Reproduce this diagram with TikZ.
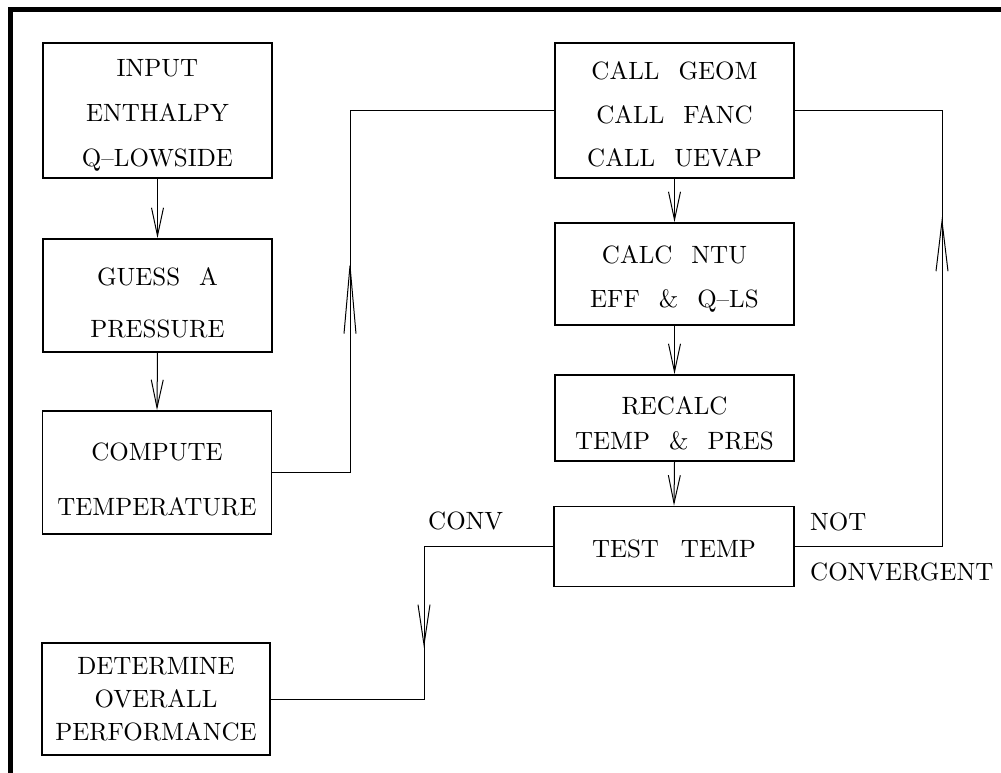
\documentclass[tikz,border=0pt]{standalone}
\usetikzlibrary{arrows.meta}
% wide Computer Modern cut used for all the lettering
\font\boxfnt=cmr10 at 25pt
% extra head room on the first line sets the lettering lower in its box
\newcommand{\headroom}[1]{\rule{0pt}{#1}}
\begin{document}
\begin{tikzpicture}[x=1pt,y=-1pt,
  procbox/.style={draw, line width=1.7pt, rectangle, align=center, inner sep=0pt,
    font=\boxfnt,
    execute at begin node={\baselineskip=#1\spaceskip=19pt\relax}},
  procbox/.default=45pt,
  link/.style={line width=1pt},
  boxtip/.style={link, -{Straight Barb[length=28pt,width=12pt,line width=1pt]}},
  midtip/.style={link, -{Straight Barb[length=#1,width=12pt,line width=1pt]}},
  lbl/.style={inner sep=0pt, anchor=base west, font=\boxfnt}]
  \useasboundingbox (0,0) rectangle (1001,773);
  \clip (0,0) rectangle (1001,773);
  % outer frame (only the top and left edges fall inside the page)
  \draw[line width=5pt] (10,10) rectangle (1040,810);

  % left column
  \node[procbox=45pt, minimum width=229pt, minimum height=135pt] (input) at (157.5,110.5) {\headroom{27pt}INPUT\\ENTHALPY\\Q--LOWSIDE};
  \node[procbox=52pt, minimum width=229pt, minimum height=113pt] (guess) at (157.5,295.5) {\headroom{31pt}GUESS A\\PRESSURE};
  \node[procbox=55pt, minimum width=229pt, minimum height=123pt] (compute) at (157,472.5) {\headroom{30pt}COMPUTE\\TEMPERATURE};
  \node[procbox=33pt, minimum width=228pt, minimum height=112pt] (determine) at (156,699) {DETERMINE\\OVERALL\\PERFORMANCE};

  % right column
  \node[procbox=43pt, minimum width=239pt, minimum height=135pt] (call) at (674.5,110.5) {\headroom{25pt}CALL GEOM\\CALL FANC\\CALL UEVAP};
  \node[procbox=44pt, minimum width=239pt, minimum height=102pt] (calc) at (674.5,274) {\headroom{27pt}CALC NTU\\EFF \& Q--LS};
  \node[procbox=35pt, minimum width=239pt, minimum height=86pt] (recalc) at (674.5,418) {\headroom{27pt}RECALC\\TEMP \& PRES};
  \node[procbox, minimum width=240pt, minimum height=80pt] (test) at (674,546.5) {\headroom{21pt}TEST\hspace{22pt}TEMP};

  % labels on the branches out of the test
  \node[lbl] (conv) at (428,529) {CONV};
  \node[lbl] (notc) at (810,530) {NOT};
  \node[lbl] (convg) at (810,580) {CONVERGENT};

  % straight flow
  \draw[boxtip] (input.south) -- (guess.north);
  \draw[boxtip] (guess.south) -- (compute.north);
  \draw[boxtip] (call.south) -- (calc.north);
  \draw[boxtip] (calc.south) -- (recalc.north);
  \draw[boxtip] (recalc.south) -- (test.north);

  % temperature to the subroutine calls
  \coordinate (a1) at (350,472.5);
  \coordinate (a2) at (350,110.5);
  \coordinate (a3) at (350,260);
  \draw[link] (compute.east) -- (a1) -- (a2) -- (call.west);
  \draw[midtip=68pt] (a1) -- (a3);

  % not convergent: back to the calls
  \coordinate (b1) at (942,546.5);
  \coordinate (b2) at (942,110.5);
  \coordinate (b3) at (942,217);
  \draw[link] (test.east) -- (b1) -- (b2) -- (call.east);
  \draw[midtip=50pt] (b1) -- (b3);

  % convergent: on to the overall performance
  \coordinate (c1) at (424,546.5);
  \coordinate (c2) at (424,699);
  \coordinate (c3) at (424,648);
  \draw[link] (test.west) -- (c1) -- (c2) -- (determine.east);
  \draw[midtip=40pt] (c1) -- (c3);
\end{tikzpicture}
\end{document}
